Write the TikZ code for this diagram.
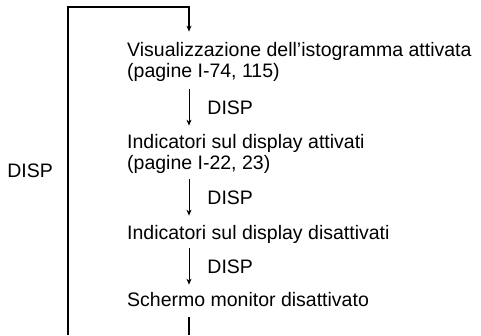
\documentclass[tikz,border=0pt]{standalone}
\usepackage{fontspec}
\setmainfont{Liberation Sans}
\usetikzlibrary{arrows.meta,positioning,calc}

\begin{document}
\begin{tikzpicture}[
  x=1bp, y=-1bp,
  font=\fontsize{19.5bp}{21bp}\selectfont,
  >={Stealth[length=6bp,width=5bp]},
  stato/.style={anchor=base west, align=left, inner sep=0pt},
  tasto/.style={anchor=west, inner sep=0pt, xshift=18bp},
  flow/.style={->, line width=0.9bp},
  ciclo/.style={line width=1.1bp},
]
\useasboundingbox (0,0) rectangle (481,335);

% Stati del display, dall'alto in basso (base = ultima riga)
\node[stato] (hist)    at (127,77)  {Visualizzazione dell'istogramma attivata\\(pagine I-74, 115)};
\node[stato] (indon)   at (127,169) {Indicatori sul display attivati\\(pagine I-22, 23)};
\node[stato] (indoff)  at (127,239) {Indicatori sul display disattivati};
\node[stato] (schermo) at (127,306) {Schermo monitor disattivato};

% Asse delle frecce e angoli del ciclo
\coordinate (asse)    at (189,0);
\coordinate (cima)    at (68,7);
\coordinate (fondo)   at (68,335);

% Frecce tra gli stati
\draw[flow] ([yshift=-8bp]hist.south -| asse)
  -- node[tasto, midway] (d1) {DISP} ([yshift=8bp]indon.north -| asse);
\draw[flow] ([yshift=-6bp]indon.south -| asse)
  -- node[tasto, midway] (d2) {DISP} ([yshift=9bp]indoff.north -| asse);
\draw[flow] ([yshift=-5bp]indoff.south -| asse)
  -- node[tasto, midway] (d3) {DISP} ([yshift=7bp]schermo.north -| asse);

% Ritorno all'inizio
\draw[ciclo] ([yshift=-11bp]schermo.south -| asse) -- (asse |- fondo);
\draw[ciclo, ->] (fondo) -- (cima) -| ([yshift=10bp]hist.north -| asse);
\node[anchor=base east, inner sep=0pt] (giro) at (53,177) {DISP};

\end{tikzpicture}
\end{document}
